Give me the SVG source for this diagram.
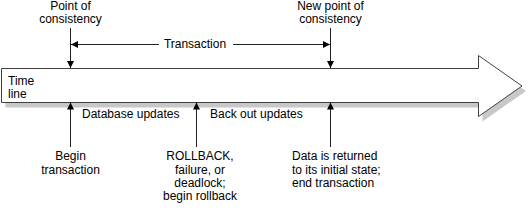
<svg xmlns="http://www.w3.org/2000/svg" width="529" height="208" viewBox="0 0 529 208">
<style>
text{font-family:"Liberation Sans",Arial,sans-serif;font-size:12px;fill:#000}
.c{text-anchor:middle}
.ln{stroke:#222;stroke-width:1;fill:none}
</style>
<defs>
<marker id="ah" markerUnits="userSpaceOnUse" markerWidth="8" markerHeight="8" refX="7" refY="4" orient="auto" viewBox="0 0 8 8">
<path d="M0,0.5 L7,4 L0,7.5 z" fill="#000"/>
</marker>
</defs>
<rect width="529" height="208" fill="#fff"/>
<g id="timeline">
<polygon points="5.5,73.5 482.5,73.5 482.5,60.5 526,91 482.5,121.5 482.5,107.5 5.5,107.5" fill="#c8c8c8"/>
<polygon points="1.5,68.5 478.5,68.5 478.5,55.5 522,86 478.5,116.5 478.5,102.5 1.5,102.5" fill="#fff" stroke="#404040" stroke-width="1"/>
<text x="8" y="85">Time</text>
<text x="8" y="98">line</text>
</g>
<g id="point-of-consistency">
<text class="c" x="70.5" y="10">Point of</text>
<text class="c" x="70.5" y="23">consistency</text>
</g>
<g id="new-point-of-consistency">
<text class="c" x="330.5" y="10">New point of</text>
<text class="c" x="330.5" y="23">consistency</text>
</g>
<g id="transaction">
<text class="c" x="195" y="48">Transaction</text>
</g>
<g id="database-updates">
<text x="82" y="118">Database updates</text>
</g>
<g id="back-out-updates">
<text x="210" y="118">Back out updates</text>
</g>
<g id="begin-transaction">
<text class="c" x="70.5" y="160">Begin</text>
<text class="c" x="70.5" y="174">transaction</text>
</g>
<g id="rollback">
<text class="c" x="200" y="160">ROLLBACK,</text>
<text class="c" x="200" y="174">failure, or</text>
<text class="c" x="200" y="187">deadlock;</text>
<text class="c" x="200" y="200">begin rollback</text>
</g>
<g id="end-transaction">
<text x="292" y="160">Data is returned</text>
<text x="292" y="174">to its initial state;</text>
<text x="292" y="187">end transaction</text>
</g>
<g id="connectors">
<line class="ln" x1="70.5" y1="28" x2="70.5" y2="68" marker-end="url(#ah)"/>
<line class="ln" x1="330.5" y1="28" x2="330.5" y2="68" marker-end="url(#ah)"/>
<line class="ln" x1="159" y1="44.5" x2="71" y2="44.5" marker-end="url(#ah)"/>
<line class="ln" x1="233" y1="44.5" x2="330" y2="44.5" marker-end="url(#ah)"/>
<line class="ln" x1="70.5" y1="147" x2="70.5" y2="102.5" marker-end="url(#ah)"/>
<line class="ln" x1="196.5" y1="147" x2="196.5" y2="102.5" marker-end="url(#ah)"/>
<line class="ln" x1="330.5" y1="147" x2="330.5" y2="102.5" marker-end="url(#ah)"/>
</g>
</svg>
